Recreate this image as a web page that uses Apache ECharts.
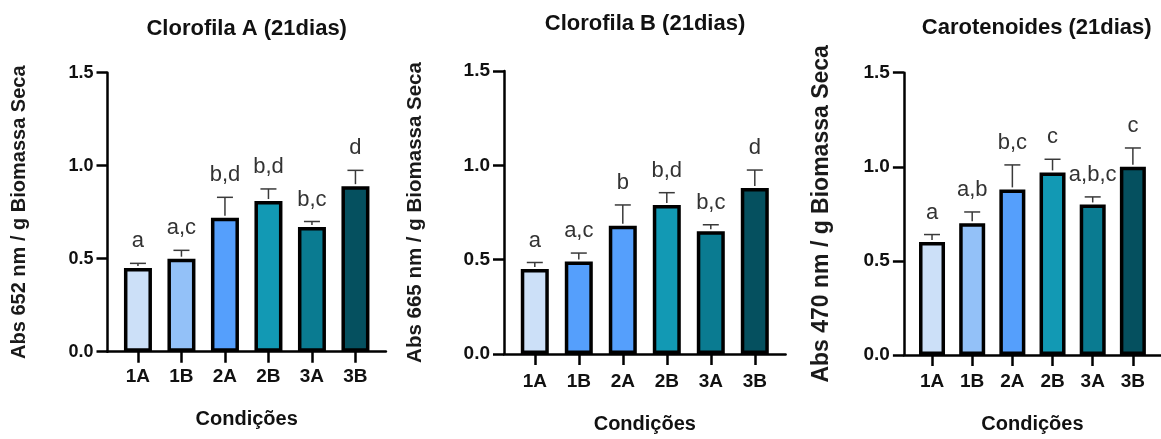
<!DOCTYPE html>
<html>
<head>
<meta charset="utf-8">
<script src="https://cdn.jsdelivr.net/npm/echarts@6/dist/echarts.min.js"></script>
<style>
html,body{margin:0;padding:0;background:#fff;}
#chart{width:1161px;height:439px;}
</style>
</head>
<body>
<div id="chart"></div>
<script>
// ---- data ----
const categories = ['1A', '1B', '2A', '2B', '3A', '3B'];
const titles = ['Clorofila A (21dias)', 'Clorofila B (21dias)', 'Carotenoides (21dias)'];
const yNames = ['Abs 652 nm / g Biomassa Seca', 'Abs 665 nm / g Biomassa Seca', 'Abs 470 nm / g Biomassa Seca'];
const xName = 'Condições';

const valuesA = [0.45, 0.50, 0.72, 0.81, 0.67, 0.89];
const errorsA = [0.025, 0.045, 0.11, 0.065, 0.03, 0.085];
const lettersA = ['a', 'a,c', 'b,d', 'b,d', 'b,c', 'd'];

const valuesB = [0.45, 0.49, 0.68, 0.79, 0.65, 0.88];
const errorsB = [0.035, 0.045, 0.11, 0.065, 0.035, 0.095];
const lettersB = ['a', 'a,c', 'b', 'b,d', 'b,c', 'd'];

const valuesC = [0.60, 0.70, 0.88, 0.97, 0.80, 1.00];
const errorsC = [0.04, 0.06, 0.13, 0.07, 0.04, 0.10];
const lettersC = ['a', 'a,b', 'b,c', 'c', 'a,b,c', 'c'];

const yMin = 0, yMax = 1.5, yStep = 0.5;

// ---- styles ----
const paletteA = ['#cce0f8', '#93c1f8', '#559ffc', '#1299b4', '#0a7b91', '#05505f'];
const paletteB = ['#cce0f8', '#559ffc', '#559ffc', '#1299b4', '#0a7b91', '#05505f'];
const paletteC = paletteA;
const FONT = '"Liberation Sans", Arial, sans-serif';

const panels = [
  {values: valuesA, errors: errorsA, letters: lettersA, palette: paletteA,
   left: 107.5, width: 278.4, top: 72.7, height: 279, titleX: 246.7, titleTop: 18,
   yNameSize: 20, yNameGap: 78, tickSize: 18, xLabelMargin: 16, xNameGap: 58, barWidth: 28},
  {values: valuesB, errors: errorsB, letters: lettersB, palette: paletteB,
   left: 504, width: 281.6, top: 71, height: 289, titleX: 645, titleTop: 13,
   yNameSize: 20.5, yNameGap: 78, tickSize: 19, xLabelMargin: 18, xNameGap: 60, barWidth: 28},
  {values: valuesC, errors: errorsC, letters: lettersC, palette: paletteC,
   left: 903.9, width: 268.8, top: 72.7, height: 286.6, titleX: 1036.7, titleTop: 17,
   yNameSize: 23, yNameGap: 71, tickSize: 19, xLabelMargin: 17, xNameGap: 59, barWidth: 26}
];

const idx = categories.map((c, i) => i);

const option = {
  animation: false,
  backgroundColor: '#fff',
  title: panels.map((p, k) => ({
    text: titles[k], left: p.titleX, top: p.titleTop, textAlign: 'center', padding: 0,
    textStyle: {fontFamily: FONT, fontSize: 22, fontWeight: 'bold', color: '#111'}
  })),
  grid: panels.map(p => ({left: p.left, top: p.top, width: p.width, height: p.height, containLabel: false})),
  xAxis: panels.map((p, k) => ({
    type: 'value', gridIndex: k, min: -0.7, max: 5.7,
    name: xName, nameLocation: 'middle', nameGap: p.xNameGap,
    nameTextStyle: {fontFamily: FONT, fontSize: 20, fontWeight: 'bold', color: '#111'},
    axisLine: {show: true, onZero: false, lineStyle: {color: '#000', width: 2.5}},
    axisTick: {show: true, customValues: idx, length: 11, lineStyle: {color: '#000', width: 2.5}},
    axisLabel: {show: true, customValues: idx, margin: p.xLabelMargin,
      formatter: v => categories[Math.round(v)] || '',
      fontFamily: FONT, fontSize: 19, fontWeight: 'bold', color: '#111'},
    splitLine: {show: false}
  })),
  yAxis: panels.map((p, k) => ({
    type: 'value', gridIndex: k, min: yMin, max: yMax, interval: yStep,
    name: yNames[k], nameLocation: 'middle', nameGap: p.yNameGap, nameRotate: 90,
    nameTextStyle: {fontFamily: FONT, fontSize: p.yNameSize, fontWeight: 'bold', color: '#1a1a1a'},
    axisLine: {show: true, onZero: false, lineStyle: {color: '#000', width: 2.5}},
    axisTick: {show: true, length: 11, lineStyle: {color: '#000', width: 2.5}},
    axisLabel: {margin: 14, formatter: v => v.toFixed(1),
      fontFamily: FONT, fontSize: p.tickSize, fontWeight: 'bold', color: '#111'},
    splitLine: {show: false}
  })),
  series: []
};

panels.forEach((p, k) => {
  option.series.push({
    type: 'bar', xAxisIndex: k, yAxisIndex: k, barWidth: p.barWidth, z: 2,
    data: p.values.map((v, i) => ({value: [i, v], itemStyle: {color: p.palette[i]}})),
    itemStyle: {borderColor: '#000', borderWidth: 3.5}
  });
  option.series.push({
    type: 'custom', xAxisIndex: k, yAxisIndex: k, z: 5, clip: false,
    data: p.values.map((v, i) => [i, v, p.errors[i]]),
    encode: {x: 0, y: 1},
    renderItem: (params, api) => {
      const x = api.value(0), v = api.value(1), e = api.value(2);
      const base = api.coord([x, v]);
      const top = api.coord([x, v + e]);
      const cap = 8;
      return {
        type: 'group',
        children: [
          {type: 'line', shape: {x1: top[0], y1: base[1] - 2, x2: top[0], y2: top[1]},
           style: {stroke: '#3a3a3a', lineWidth: 1.5}},
          {type: 'line', shape: {x1: top[0] - cap, y1: top[1], x2: top[0] + cap, y2: top[1]},
           style: {stroke: '#3a3a3a', lineWidth: 1.5}},
          {type: 'text', x: top[0], y: top[1] - 11,
           style: {text: p.letters[params.dataIndex], fill: '#333',
                   font: '22px ' + FONT, align: 'center', verticalAlign: 'bottom'}}
        ]
      };
    }
  });
});

const chart = echarts.init(document.getElementById('chart'), null, {renderer: 'canvas'});
chart.setOption(option);
</script>
</body>
</html>
